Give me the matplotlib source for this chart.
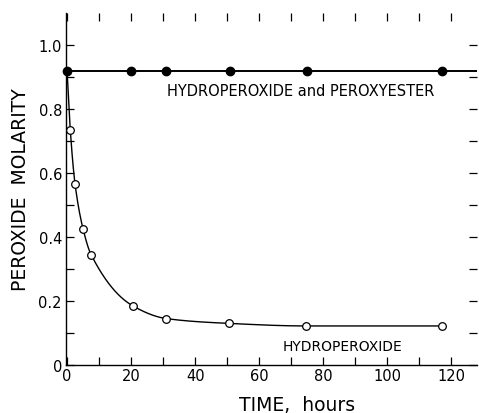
import numpy as np
import matplotlib
matplotlib.use("Agg")
import matplotlib.pyplot as plt

# hydroperoxide + peroxyester (filled)
t_total = [0, 20, 31, 51, 75, 117]
m_total = [0.92, 0.92, 0.92, 0.92, 0.92, 0.92]

# hydroperoxide alone (open)
t_hp = [1, 2.5, 5, 7.5, 20.5, 31, 50.5, 74.5, 117]
m_hp = [0.735, 0.565, 0.425, 0.345, 0.185, 0.145, 0.13, 0.122, 0.122]

x_ticks = [0, 20, 40, 60, 80, 100, 120]
y_ticks = [0, 0.2, 0.4, 0.6, 0.8, 1.0]
y_ticklabels = ["0", "0.2", "0.4", "0.6", "0.8", "1.0"]


def pchip(x, y, xs):
    # monotone cubic hermite, only used to draw a smooth line
    x = np.asarray(x, float); y = np.asarray(y, float)
    h = np.diff(x); d = np.diff(y) / h
    m = np.zeros_like(y)
    for k in range(1, len(x) - 1):
        if d[k - 1] * d[k] > 0:
            w1 = 2 * h[k] + h[k - 1]; w2 = h[k] + 2 * h[k - 1]
            m[k] = (w1 + w2) / (w1 / d[k - 1] + w2 / d[k])
    m[0] = d[0]; m[-1] = 0
    i = np.clip(np.searchsorted(x, xs) - 1, 0, len(h) - 1)
    s = (xs - x[i]) / h[i]
    h00 = 2*s**3 - 3*s**2 + 1; h10 = s**3 - 2*s**2 + s
    h01 = -2*s**3 + 3*s**2; h11 = s**3 - s**2
    return h00*y[i] + h10*h[i]*m[i] + h01*y[i+1] + h11*h[i]*m[i+1]


fig = plt.figure(figsize=(4.79, 4.14), dpi=100)
ax = fig.add_axes([0.138, 0.116, 0.858, 0.85])
xmin, xmax = -0.3, 128
ax.set_xlim(xmin, xmax)
ax.set_ylim(0, 1.1)

# decay curve through the open points, starting from the initial total
tx = [t_total[0]] + t_hp
my = [m_total[0]] + m_hp
xs = np.linspace(tx[0], tx[-1], 600)
ax.plot(xs, pchip(tx, my, xs), color="black", lw=1.0, zorder=2)
ax.plot(t_hp, m_hp, "o", mfc="white", mec="black", mew=0.9, ms=5.5, zorder=3, clip_on=False)

ax.plot(t_total, m_total, "-", color="black", lw=1.4, zorder=2)
ax.axhline(m_total[-1], xmin=(t_total[-1] - xmin) / (xmax - xmin), xmax=1, color="black", lw=1.4)
ax.plot(t_total, m_total, "o", color="black", ms=6, zorder=4, clip_on=False)

ax.text(73, 0.858, "HYDROPEROXIDE and PEROXYESTER", ha="center", va="center", fontsize=10.5)
ax.text(86, 0.06, "HYDROPEROXIDE", ha="center", va="center", fontsize=10)

ax.spines["top"].set_visible(False)
ax.spines["right"].set_visible(False)
for s in ["left", "bottom"]:
    ax.spines[s].set_linewidth(1.0)

ax.set_xticks(x_ticks)
ax.set_xticks(np.arange(10, 130, 20), minor=True)
ax.set_yticks(y_ticks)
ax.set_yticklabels(y_ticklabels)
ax.set_yticks(np.arange(0.1, 1.1, 0.2), minor=True)
ax.tick_params(which="both", direction="in", length=6, width=0.9,
               top=True, right=True, labelsize=10.5)
ax.tick_params(axis="x", pad=2)
ax.tick_params(axis="y", pad=3)

ax.set_ylabel("PEROXIDE  MOLARITY", fontsize=13.5, labelpad=6)
fig.text(0.62, 3 / 414, "TIME,  hours", ha="center", va="baseline", fontsize=13.5)

fig.savefig("out.png", dpi=100)
